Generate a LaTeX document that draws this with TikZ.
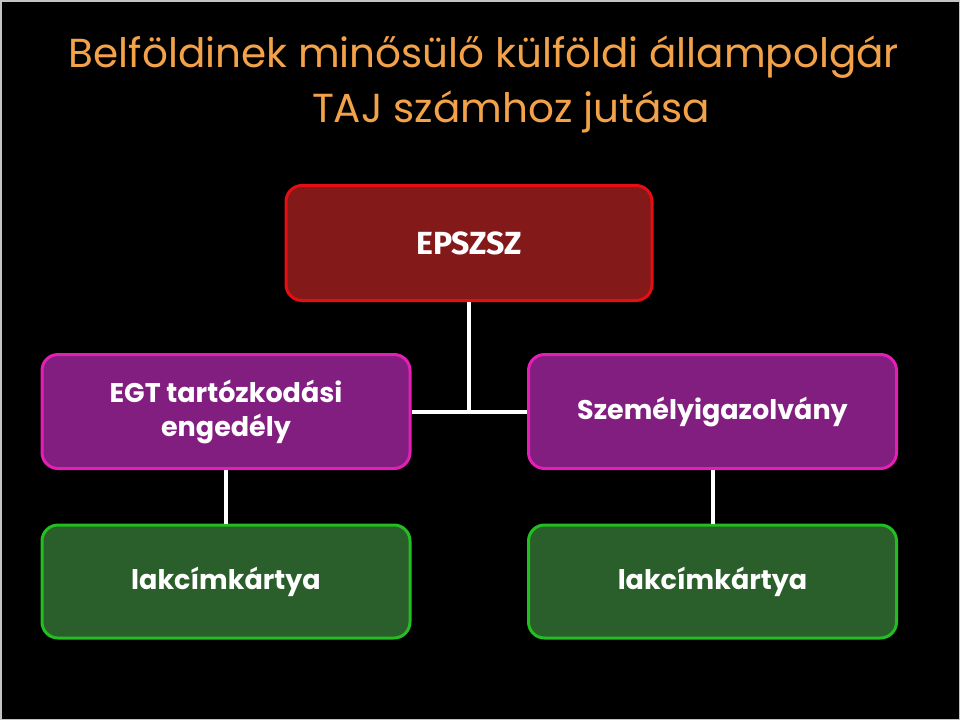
\documentclass[tikz,border=0pt]{standalone}
\usepackage{fontspec}
\setmainfont{Poppins}
\newfontfamily\epfont{Fira Sans}
\definecolor{titleor}{HTML}{F3A24A}
\definecolor{redfill}{HTML}{84191A}
\definecolor{redline}{HTML}{E50E12}
\definecolor{purfill}{HTML}{821E80}
\definecolor{purline}{HTML}{E41FB4}
\definecolor{grnfill}{HTML}{2A5E2A}
\definecolor{grnline}{HTML}{22BE22}
\definecolor{edgegray}{HTML}{C4C4C4}
\tikzset{
  boxbase/.style={rectangle, rounded corners=16pt, line width=3pt, text=white,
    align=center, inner sep=0pt, font=\fontsize{27}{34}\selectfont\bfseries},
  redbox/.style={boxbase, fill=redfill, draw=redline, minimum width=366pt, minimum height=115pt},
  purbox/.style={boxbase, fill=purfill, draw=purline, minimum width=368pt, minimum height=114pt},
  grnbox/.style={boxbase, fill=grnfill, draw=grnline, minimum width=368pt, minimum height=113pt},
  conn/.style={draw=white, line width=4pt},
  titletext/.style={text=titleor, inner sep=0pt, anchor=base, font=\fontsize{40.5}{44}\selectfont}
}
\begin{document}
\begin{tikzpicture}[x=1pt,y=-1pt]
\useasboundingbox (0,0) rectangle (960,720);
\fill[black] (0,0) rectangle (960,720);
\draw[edgegray, line width=1.5pt] (0.75,0.75) rectangle (959.25,719.25);

\node[titletext] (t1) at (484,67) {Belföldinek minősülő külföldi állampolgár};
\node[titletext] (t2) at (511,122) {TAJ számhoz jutása};

\node[redbox, font=\fontsize{32}{34}\selectfont\epfont\bfseries] (ep) at (469,243) {EPSZSZ};
\node[purbox] (pl) at (226,411.5) {EGT tartózkodási\\engedély};
\node[purbox] (pr) at (712.5,411.5) {Személyigazolvány};
\node[grnbox] (gl) at (226,581.5) {lakcímkártya};
\node[grnbox] (gr) at (712.5,581.5) {lakcímkártya};

\draw[conn] (ep.south) -- (ep.south |- pl.east);
\draw[conn] (pl.east) -- (pr.west);
\draw[conn] (pl.south) -- (gl.north);
\draw[conn] (pr.south) -- (gr.north);
\end{tikzpicture}
\end{document}
